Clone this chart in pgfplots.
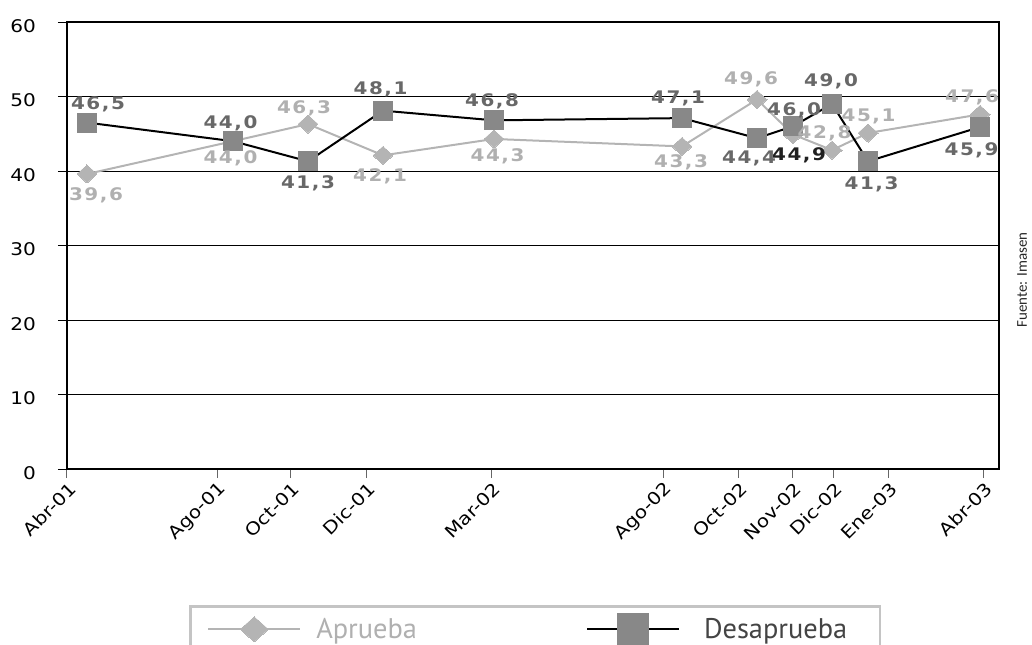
\documentclass[border=0pt]{standalone}
\usepackage{fontspec}
\setmainfont{DejaVu Sans}[FakeStretch=1.15]
\newfontfamily\lblfont{DejaVu Sans}[FakeStretch=1.15, LetterSpace=9]
\newfontfamily\legfont{PT Sans}
\newfontfamily\srcfont{Carlito}
\usepackage{pgfplots}
\usepackage{pgfplotstable}
\pgfplotsset{compat=1.18}
\definecolor{agray}{HTML}{B4B4B4}
\definecolor{alab}{HTML}{B0B0B0}
\definecolor{dmark}{HTML}{888888}
\definecolor{dlab}{HTML}{686868}
\definecolor{dblk}{HTML}{202020}
\definecolor{leggray}{HTML}{C4C4C4}
\definecolor{legdark}{HTML}{444444}

\pgfplotstableread{
x y lab dx dy
87 39.6 39,6 9 -20.5
233 44.0 44,0 -2.5 -16
308 46.3 46,3 -4 16.5
383 42.1 42,1 -3 -20
494 44.3 44,3 3.5 -16
682 43.3 43,3 -1 -15
757 49.6 49,6 -6 21
793 44.9 44,9 6 -20
832 42.8 42,8 -7.5 18
868 45.1 45,1 0.5 18
980 47.6 47,6 -8 18
}\aprueba

\pgfplotstableread{
x y lab dx dy
87 39.6 39,6 9 -20.5
233 44.0 44,0 -2.5 -16
308 46.3 46,3 -4 16.5
383 42.1 42,1 -3 -20
494 44.3 44,3 3.5 -16
682 43.3 43,3 -1 -15
757 49.6 49,6 -6 21
832 42.8 42,8 -7.5 18
868 45.1 45,1 0.5 18
980 47.6 47,6 -8 18
}\apruebalab

\pgfplotstableread{
x y lab dx dy
793 44.9 44,9 6 -20
}\apruebablk

\pgfplotstableread{
x y lab dx dy
87 46.5 46,5 11 19.6
233 44.0 44,0 -2.5 19
308 41.3 41,3 0 -21
383 48.1 48,1 -2.5 23
494 46.8 46,8 -2 20
682 47.1 47,1 -4 21
757 44.4 44,4 -8 -19
793 46.0 46,0 1 17
832 49.0 49,0 -1 24
868 41.3 41,3 3.5 -22
980 45.9 45,9 -8.5 -22.5
}\desaprueba

\pgfplotsset{
  lbls/.style={
    draw=none, mark=none, forget plot,
    nodes near coords, point meta=explicit symbolic,
    nodes near coords align={center},
    visualization depends on={\thisrow{dx} \as \ldx},
    visualization depends on={\thisrow{dy} \as \ldy},
    every node near coord/.append style={anchor=center, inner sep=0pt,
      xshift=\ldx bp, yshift=\ldy bp, text=#1,
      text height=12.7bp, text depth=0bp,
      font=\lblfont\bfseries\fontsize{17.4}{20}\selectfont},
  }
}

\begin{document}
\begin{tikzpicture}
\path[use as bounding box] (-67bp,-176bp) rectangle (965bp,469bp);
\begin{axis}[
  scale only axis, width=932bp, height=447bp,
  at={(0,0)}, anchor=south west,
  xmin=67, xmax=999, ymin=0, ymax=60,
  ytick={0,10,...,60},
  xtick={67,217,290,366,491,663,738,792,833,888,983},
  xticklabels={Abr-01,Ago-01,Oct-01,Dic-01,Mar-02,Ago-02,Oct-02,Nov-02,Dic-02,Ene-03,Abr-03},
  ymajorgrids, grid style={black, line width=1bp},
  axis line style={black, line width=2bp},
  tick align=outside, tick pos=left,
  major tick length=9bp,
  y tick style={black, line width=1bp},
  x tick style={black!60, line width=1bp},
  ticklabel style={font=\fontsize{17.5}{20}\selectfont},
  /pgf/number format/assume math mode=true,
  yticklabel style={inner sep=0pt, xshift=-22bp, yshift=-4bp},
  xticklabel style={xshift=6bp, yshift=-8bp, rotate=45, anchor=east, inner sep=0pt},
  clip=false,
  legend columns=2,
  legend style={at={(0.1309,-0.3043)}, anchor=north west,
    draw=leggray, line width=2.5bp, inner xsep=17bp, inner ysep=7.5bp,
    /tikz/every odd column/.append style={column sep=15bp},
    /tikz/every even column/.append style={column sep=169bp},
    nodes={inner sep=0pt, font=\legfont\fontsize{28.5}{30}\selectfont},
  },
  legend cell align=left,
]
\addplot[agray, line width=2bp, mark=diamond*, mark size=9bp,
  mark options={xscale=1.48, fill=agray, draw=agray, line width=0pt},
  legend image code/.code={
    \draw[agray, line width=2bp] (0bp,0bp) -- (92bp,0bp);
    \draw[agray, only marks, mark=diamond*, mark size=12.5bp,
      mark options={xscale=1.5, fill=agray, draw=agray, line width=0pt}]
      plot coordinates {(46bp,0bp)};
  }] table[x=x, y=y] {\aprueba};
\addlegendentry{\textcolor{alab}{Aprueba}}
\addplot[black, line width=2bp, mark=square*, mark size=9.5bp,
  mark options={fill=dmark, draw=dmark, line width=0pt},
  legend image code/.code={
    \draw[black, line width=2bp] (0bp,0bp) -- (92bp,0bp);
    \draw[dmark, only marks, mark=square*, mark size=15.5bp,
      mark options={fill=dmark, draw=dmark, line width=0pt}]
      plot coordinates {(46bp,0bp)};
  }] table[x=x, y=y] {\desaprueba};
\addlegendentry{\hspace*{9bp}\textcolor{legdark}{Desaprueba}\hspace*{16bp}}
\addplot[lbls=alab] table[x=x, y=y, meta=lab] {\apruebalab};
\addplot[lbls=dblk] table[x=x, y=y, meta=lab] {\apruebablk};
\addplot[lbls=dlab] table[x=x, y=y, meta=lab] {\desaprueba};
\node[rotate=90, font=\srcfont\fontsize{15}{17}\selectfont, text=black!85]
  at (rel axis cs:1.0247,0.4228) {Fuente: Imasen};
\end{axis}
\end{tikzpicture}
\end{document}
